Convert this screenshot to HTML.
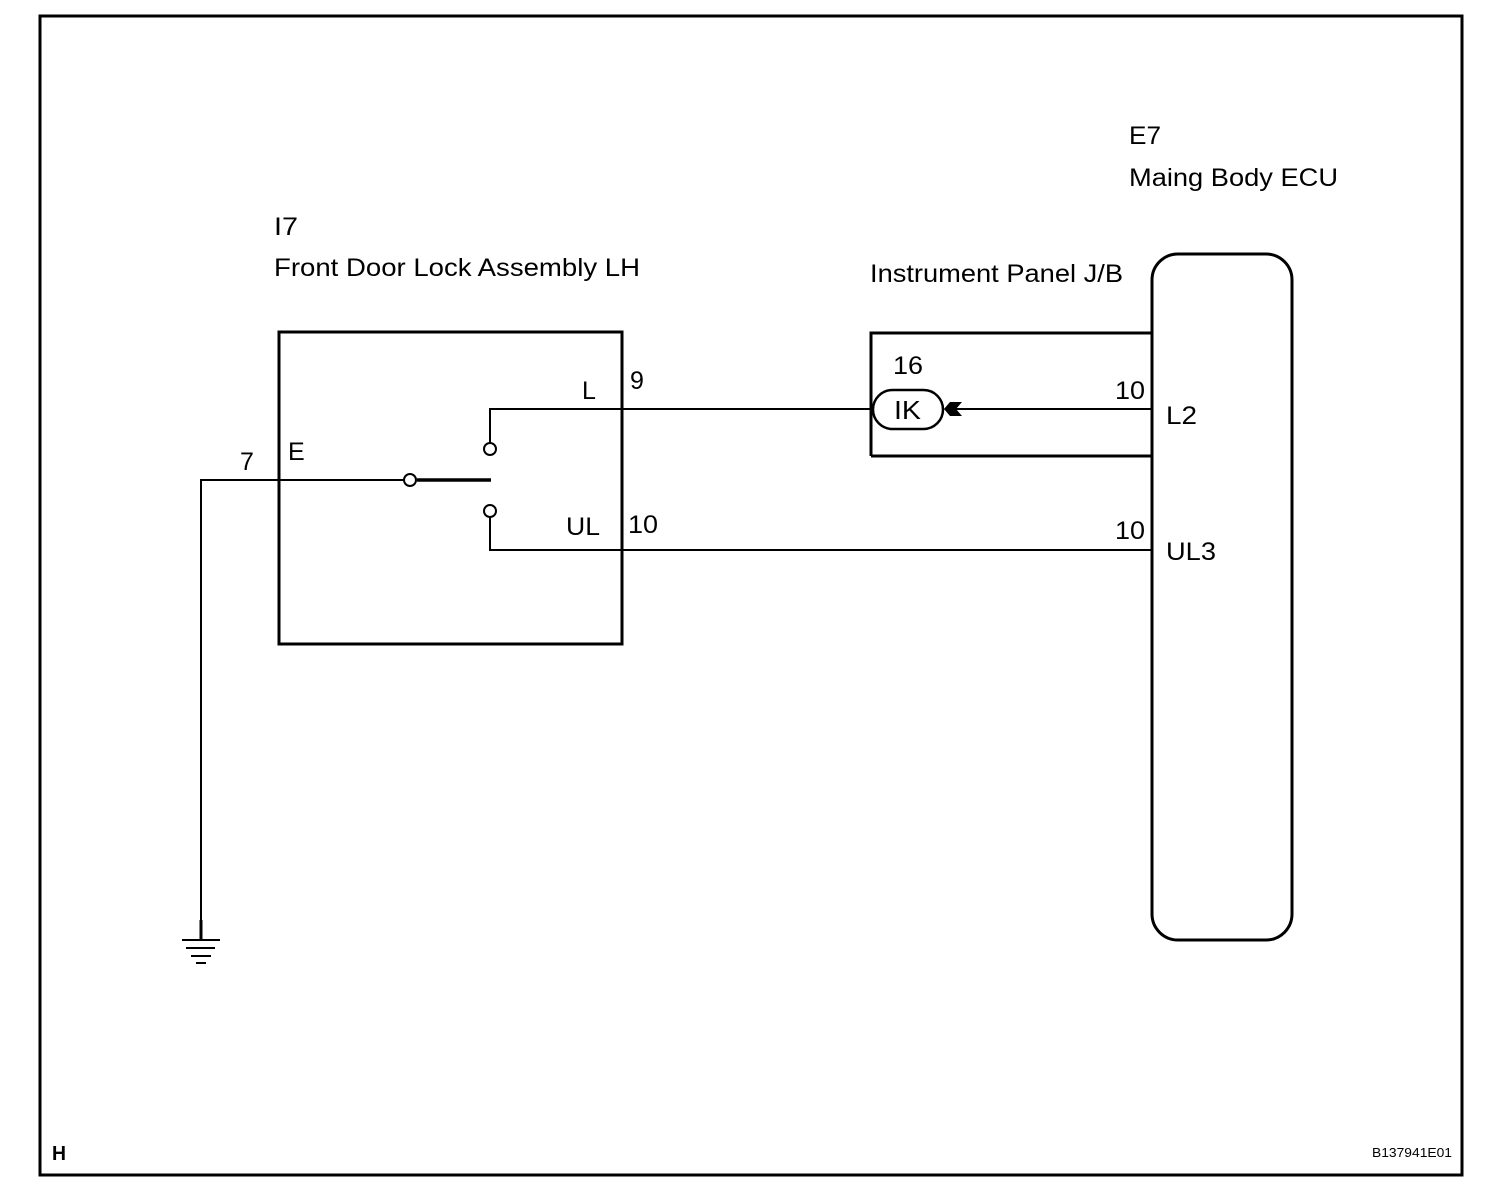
<!DOCTYPE html>
<html><head><meta charset="utf-8"><style>
html,body{margin:0;padding:0;background:#fff;}
svg{display:block;}
text{font-family:"Liberation Sans",Arial,sans-serif;fill:#000;}
</style></head><body>
<svg width="1504" height="1194" viewBox="0 0 1504 1194" xmlns="http://www.w3.org/2000/svg">
<rect x="40" y="16" width="1422" height="1159" fill="none" stroke="#000" stroke-width="3"/>
<g font-size="25">
<text x="274" y="235" textLength="24" lengthAdjust="spacingAndGlyphs">I7</text>
<text x="274" y="276" textLength="366" lengthAdjust="spacingAndGlyphs">Front Door Lock Assembly LH</text>
<text x="1129" y="144" textLength="32" lengthAdjust="spacingAndGlyphs">E7</text>
<text x="1129" y="186" textLength="209" lengthAdjust="spacingAndGlyphs">Maing Body ECU</text>
<text x="870" y="282" textLength="253" lengthAdjust="spacingAndGlyphs">Instrument Panel J/B</text>
<text x="893" y="374" textLength="30" lengthAdjust="spacingAndGlyphs">16</text>
<text x="582" y="399">L</text>
<text x="630" y="389">9</text>
<text x="1115" y="399" textLength="30" lengthAdjust="spacingAndGlyphs">10</text>
<text x="1166" y="424" textLength="31" lengthAdjust="spacingAndGlyphs">L2</text>
<text x="288" y="460">E</text>
<text x="240" y="470">7</text>
<text x="566" y="535" textLength="34" lengthAdjust="spacingAndGlyphs">UL</text>
<text x="628" y="533" textLength="30" lengthAdjust="spacingAndGlyphs">10</text>
<text x="1115" y="539" textLength="30" lengthAdjust="spacingAndGlyphs">10</text>
<text x="1166" y="560" textLength="50" lengthAdjust="spacingAndGlyphs">UL3</text>
<text x="894" y="419" font-size="26" textLength="27" lengthAdjust="spacingAndGlyphs">IK</text>
</g>
<text x="52" y="1160" font-size="20" font-weight="bold" textLength="14" lengthAdjust="spacingAndGlyphs">H</text>
<text x="1372" y="1157" font-size="13" textLength="80" lengthAdjust="spacingAndGlyphs">B137941E01</text>
<g fill="none" stroke="#000">
<rect x="279" y="332" width="343" height="312" stroke-width="3"/>
<polyline points="871,456 871,333 1152,333" stroke-width="3"/>
<line x1="871" y1="456" x2="1152" y2="456" stroke-width="3"/>
<rect x="1152" y="254" width="140" height="686" rx="26" stroke-width="3"/>
<rect x="873" y="390" width="70" height="39" rx="19.5" stroke-width="2.5"/>
<line x1="622" y1="409" x2="873" y2="409" stroke-width="2"/>
<line x1="950" y1="409" x2="1152" y2="409" stroke-width="2"/>
<polyline points="490,443 490,409 622,409" stroke-width="2"/>
<polyline points="490,517 490,550 1152,550" stroke-width="2"/>
<polyline points="201,940 201,480 404,480" stroke-width="2"/>
<line x1="417" y1="480" x2="491" y2="480" stroke-width="3.5"/>
<circle cx="410" cy="480" r="6" stroke-width="2" fill="#fff"/>
<circle cx="490" cy="449" r="6" stroke-width="2" fill="#fff"/>
<circle cx="490" cy="511" r="6" stroke-width="2" fill="#fff"/>
<line x1="201" y1="920" x2="201" y2="940" stroke-width="3"/>
<line x1="182" y1="940" x2="220" y2="940" stroke-width="2"/>
<line x1="186" y1="948" x2="215" y2="948" stroke-width="2"/>
<line x1="191" y1="956" x2="211" y2="956" stroke-width="2"/>
<line x1="196" y1="963" x2="206" y2="963" stroke-width="2"/>
</g>
<polygon points="944,409 950,402 962,402 956,409 962,416 950,416" fill="#000"/>
</svg>
</body></html>
